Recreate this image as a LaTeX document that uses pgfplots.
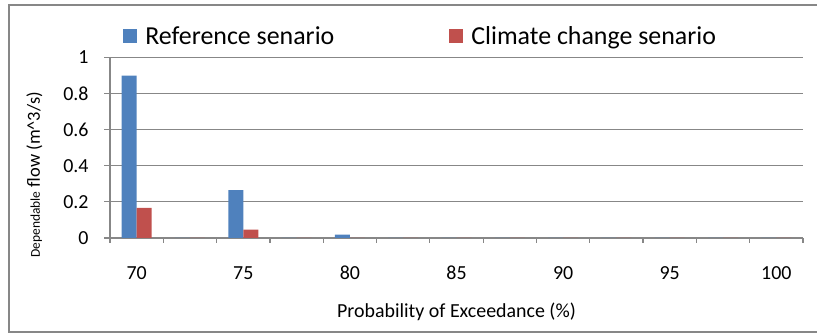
\documentclass[border=0pt]{standalone}
\usepackage{pgfplots}
\pgfplotsset{compat=1.18}
\usepackage{fontspec}
\setmainfont{Carlito}
\definecolor{xblue}{HTML}{4F81BD}
\definecolor{xred}{HTML}{C0504D}
\definecolor{xgray}{HTML}{878787}
\begin{document}
\begin{tikzpicture}
\useasboundingbox (0,0) rectangle (817bp,336bp);
\draw[xgray, line width=2bp] (8.5bp,4bp) rectangle (830bp,331bp);
\begin{axis}[
  at={(110bp,98bp)}, anchor=south west,
  scale only axis, width=693bp, height=180.5bp,
  xmin=-0.5, xmax=12.5, ymin=0, ymax=1,
  ybar=0pt, bar width=15bp,
  axis x line*=bottom, axis y line*=left,
  axis line style={xgray, line width=1.2bp, -},
  ymajorgrids, grid style={xgray, line width=1.2bp},
  ytick={0,0.2,0.4,0.6,0.8,1},
  xtick={0,2,4,6,8,10,12},
  xticklabels={70,75,80,85,90,95,100},
  minor xtick={-0.5,0.5,...,12.5},
  tick align=outside,
  major tick length=6bp, minor tick length=5bp,
  every major x tick/.append style={draw=none},
  tick style={xgray, line width=1.2bp},
  /pgf/number format/assume math mode=true,
  ticklabel style={font=\fontsize{20}{20}\selectfont},
  yticklabel style={xshift=-12bp},
  xticklabel style={anchor=center, yshift=-29bp},
  xlabel={Probability of Exceedance (\%)},
  xlabel style={font=\fontsize{20}{20}\selectfont, at={(axis description cs:0.5,-0.41)}, anchor=center},
  ylabel={{\fontsize{13.5}{13.5}\selectfont Dependable} flow (m\^{}3/s)},
  ylabel style={font=\fontsize{18.5}{18.5}\selectfont, at={(axis description cs:-0.109,0.35)}, anchor=center, rotate=0},
  legend columns=2,
  legend style={at={(axis description cs:0.019,1.119)}, anchor=west, draw=none, fill=none,
    inner sep=0pt, nodes={inner sep=0pt}, font=\fontsize{26}{26}\selectfont,
    /tikz/every odd column/.append style={column sep=8bp},
    /tikz/every even column/.append style={column sep=115bp}},
  legend image code/.code={\fill[#1] (0bp,-7bp) rectangle (14bp,7bp);},
]
\addplot[fill=xblue, draw=none] coordinates {(0,0.9) (1,0) (2,0.265) (3,0) (4,0.019) (5,0) (6,0) (7,0) (8,0) (9,0) (10,0) (11,0) (12,0)};
\addplot[fill=xred, draw=none] coordinates {(0,0.167) (1,0) (2,0.047) (3,0) (4,0) (5,0) (6,0) (7,0) (8,0) (9,0) (10,0) (11,0) (12,0)};
\legend{Reference senario, Climate change senario}
\end{axis}
\end{tikzpicture}
\end{document}
